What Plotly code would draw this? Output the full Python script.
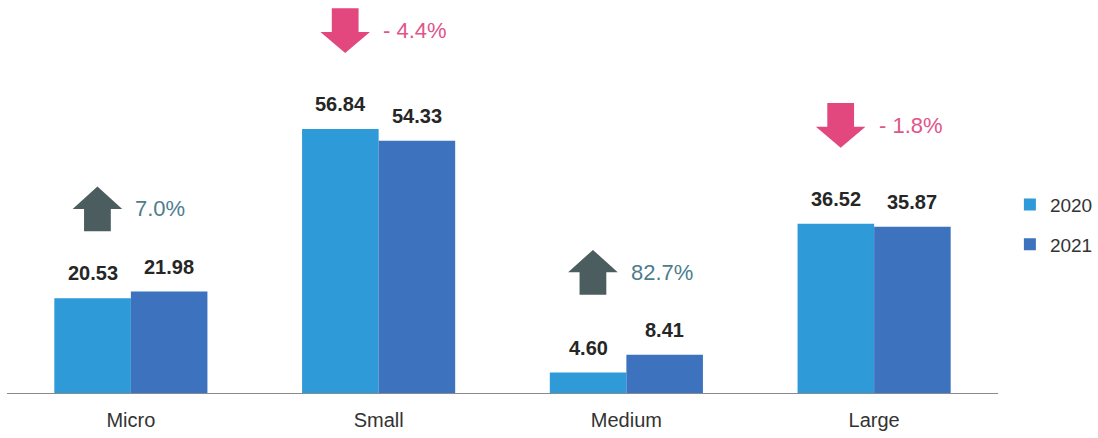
import plotly.graph_objects as go

# Enterprise size categories and yearly values
categories = ["Micro", "Small", "Medium", "Large"]
values_2020 = [20.53, 56.84, 4.60, 36.52]
values_2021 = [21.98, 54.33, 8.41, 35.87]
change_labels = ["7.0%", "- 4.4%", "82.7%", "- 1.8%"]
change_up = [True, False, True, False]

COLOR_2020 = "#2f9ad8"
COLOR_2021 = "#3d72bf"
UP_FILL = "#4b5d5e"
UP_TEXT = "#4d7d8c"
DOWN_FILL = "#e2477d"
DOWN_TEXT = "#e0558a"

NUM_FONT = "Liberation Sans, Arial, sans-serif"
TICK_FONT = "Liberation Sans, Arial, sans-serif"

xpos = list(range(len(categories)))
BAR_HALF = 0.1545

fig = go.Figure()
fig.add_trace(go.Bar(name="2020", x=xpos, y=values_2020, marker_color=COLOR_2020,
                     marker_line_width=0, legendgroup="a"))
fig.add_trace(go.Bar(name="2021", x=xpos, y=values_2021, marker_color=COLOR_2021,
                     marker_line_width=0, legendgroup="b"))

# Value labels above each bar
for i in xpos:
    for val, dx in ((values_2020[i], -BAR_HALF), (values_2021[i], BAR_HALF)):
        fig.add_annotation(x=i + dx, y=val, text=f"<b>{val:.2f}</b>", showarrow=False,
                           yanchor="bottom", yshift=12,
                           font=dict(family=NUM_FONT, size=20, color="#262626"))

# Change arrows with percentage text
ARROW_W = 0.2
ARROW_H = 9.6
for i in xpos:
    top = max(values_2020[i], values_2021[i])
    cx = i - 0.135
    hw = ARROW_W / 2
    sw = ARROW_W * 0.27
    if change_up[i]:
        y0 = top + 12.9
        y1 = y0 + ARROW_H
        ym = y1 - ARROW_H * 0.5
        path = (f"M{cx - sw},{y0} L{cx + sw},{y0} L{cx + sw},{ym} L{cx + hw},{ym} "
                f"L{cx},{y1} L{cx - hw},{ym} L{cx - sw},{ym} Z")
        fill, tcol = UP_FILL, UP_TEXT
    else:
        y0 = top + 16.3
        y1 = y0 + ARROW_H
        ym = y0 + ARROW_H * 0.47
        path = (f"M{cx - sw},{y1} L{cx + sw},{y1} L{cx + sw},{ym} L{cx + hw},{ym} "
                f"L{cx},{y0} L{cx - hw},{ym} L{cx - sw},{ym} Z")
        fill, tcol = DOWN_FILL, DOWN_TEXT
    fig.add_shape(type="path", path=path, xref="x", yref="y",
                  fillcolor=fill, line=dict(width=0), layer="above")
    fig.add_annotation(x=i + 0.01, y=(y0 + y1) / 2, text=change_labels[i],
                       showarrow=False, xanchor="left", yanchor="middle",
                       font=dict(family=NUM_FONT, size=22, color=tcol))

fig.update_layout(
    width=1098, height=438,
    margin=dict(l=7, r=95, t=0, b=44),
    paper_bgcolor="white", plot_bgcolor="white",
    barmode="group", bargap=0.382, bargroupgap=0,
    showlegend=True,
    legend=dict(x=1.012, y=0.43, xanchor="left", yanchor="middle",
                font=dict(family=TICK_FONT, size=19, color="#333333"),
                itemwidth=30, tracegroupgap=12, traceorder="grouped",
                bgcolor="rgba(0,0,0,0)"),
    xaxis=dict(range=[-0.5, 3.5], tickmode="array", tickvals=xpos, ticktext=categories,
               showgrid=False, zeroline=False, showline=False, ticks="",
               ticklabelstandoff=12,
               tickfont=dict(family=TICK_FONT, size=20, color="#333333")),
    yaxis=dict(range=[0, 84.5], visible=False, showgrid=False, zeroline=False),
)

# Baseline under the bars
fig.add_shape(type="line", xref="paper", yref="y", x0=0, x1=1, y0=0, y1=0,
              line=dict(color="#8a8a8a", width=2), layer="above")

fig.write_html("out.html")
